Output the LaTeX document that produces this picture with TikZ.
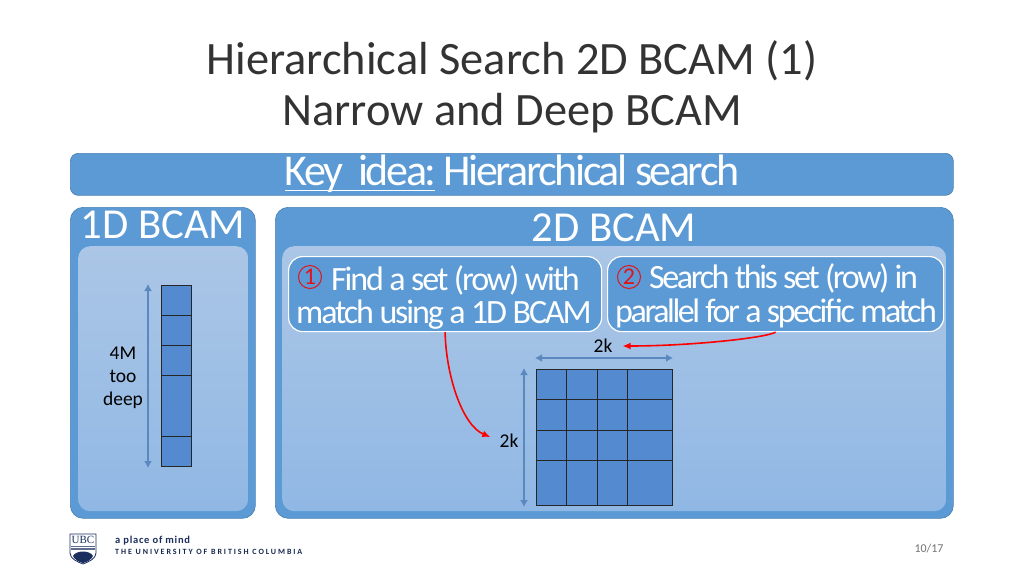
\documentclass[tikz,border=0pt]{standalone}
\usepackage{fontspec}
\setmainfont{Carlito}
\newfontfamily\ubcserif{Liberation Serif}
\usetikzlibrary{arrows.meta,positioning}
\definecolor{panelblue}{HTML}{5B9AD5}
\definecolor{innertop}{HTML}{ABC6E6}
\definecolor{innerbot}{HTML}{90B8E4}
\definecolor{cellblue}{HTML}{548BD0}
\definecolor{dimblue}{HTML}{5A88BF}
\definecolor{ubcnavy}{HTML}{1B2F5E}
\definecolor{numred}{HTML}{E0151C}
\tikzset{
  x=1pt,y=-1pt,
  outerpanel/.style={draw=panelblue!85!black,line width=.7pt,fill=panelblue,rounded corners=13pt,minimum width=#1,anchor=north west,inner sep=0pt},
  innerpanel/.style={top color=innertop,bottom color=innerbot,draw=none,rounded corners=12pt},
  stepbox/.style={draw=white,line width=1.2pt,fill=panelblue,rounded corners=14pt,anchor=north west,inner sep=0pt},
  steptext/.style={text=white,inner sep=0pt,anchor=base west},
  cell/.style={draw=black!85,line width=1.3pt,fill=cellblue,anchor=north west,inner sep=0pt},
  dimarrow/.style={draw=dimblue,line width=2.6pt,{Latex[length=7pt,width=8pt]}-{Latex[length=7pt,width=8pt]}},
  redarrow/.style={draw=red,line width=1.6pt,shorten >=10pt,-{Latex[length=8pt,width=7pt]}},
  heading/.style={text=white,font=\fontsize{42.7}{43}\selectfont,inner sep=0pt,anchor=base},
  blacklabel/.style={text=black,font=\fontsize{19.5}{23}\selectfont,inner sep=0pt,align=center},
  titletext/.style={text=black!80,font=\fontsize{46.4}{50}\selectfont,inner sep=0pt,anchor=base},
  numcircle/.style={circle,draw=numred,line width=1pt,text=numred,minimum size=23pt,inner sep=0pt,font=\fontsize{24}{24}\selectfont,anchor=center},
}
\newcommand{\gridcell}[6]{\node[cell,minimum width=#5pt-#3pt,minimum height=#6pt-#4pt] (#1#2) at (#3,#4) {};}
\newcommand{\stepa}{\fontsize{34}{34}\selectfont\addfontfeature{LetterSpace=-6.3}}
\newcommand{\stepb}{\fontsize{34}{34}\selectfont\addfontfeature{LetterSpace=-7.1}}
\begin{document}
\begin{tikzpicture}
\useasboundingbox (0,0) rectangle (1024,576);
\fill[white] (0,0) rectangle (1024,576);
% title
\node[titletext] (title1) at (512,74) {Hierarchical Search 2D BCAM (1)};
\node[titletext] (title2) at (512,125) {Narrow and Deep BCAM};
% key idea bar
\node[outerpanel=883pt,minimum height=42pt,rounded corners=8pt] (bar) at (70,153) {};
\node[text=white,font=\fontsize{44}{44}\selectfont\addfontfeature{LetterSpace=-5.6},inner sep=0pt,anchor=base] (keyidea) at (512,185) {Key\ \ idea:\ Hierarchical search};
\coordinate (ulstart) at (285,190.5);
\coordinate (ulend) at (435,190.5);
\draw[white,line width=1.6pt] (ulstart) -- (ulend);
% panels
\node[outerpanel=185pt,minimum height=311pt] (p1) at (70,207) {};
\node[outerpanel=678pt,minimum height=311pt] (p2) at (275,207) {};
\node[innerpanel,minimum width=170pt,minimum height=265pt,anchor=north west,inner sep=0pt] (i1) at (78,246) {};
\node[innerpanel,minimum width=664pt,minimum height=265pt,anchor=north west,inner sep=0pt] (i2) at (282,246) {};
\node[heading] (h1) at (163,238) {1D BCAM};
\node[heading] (h2) at (614,241) {2D BCAM};
% step boxes
\node[stepbox,minimum width=313pt,minimum height=75pt] (step1) at (288,256) {};
\node[stepbox,minimum width=336pt,minimum height=75pt] (step2) at (607,256) {};
\node[numcircle] (n1) at (310,277) {1};
\node[numcircle] (n2) at (629,277) {2};
\node[steptext,font=\stepa] (s1a) at (331,290) {Find a set (row) with};
\node[steptext,font=\stepa] (s1b) at (296,323) {match using a 1D BCAM};
\node[steptext,font=\stepb] (s2a) at (649,288) {Search this set (row) in};
\node[steptext,font=\stepb] (s2b) at (615,322) {parallel for a specific match};
% 1D column
\foreach \n/\a/\b in {a/285/315,b/315/345,c/345/375,d/375/436,e/436/466}{
  \node[cell,minimum width=30pt,minimum height={\b pt-\a pt}] (col\n) at (161,\a) {};
}
\coordinate (d1top) at (148,284);
\coordinate (d1bot) at (148,468);
\draw[dimarrow] (d1top) -- (d1bot);
\node[blacklabel] (deep) at (123,378) {4M\\too\\deep};
% 2D grid
\foreach \r/\ya/\yb in {1/369/399,2/399/430,3/430/460,4/460/505}{
  \foreach \c/\xa/\xb in {a/536/566,b/566/597,c/597/627,d/627/672}{
    \gridcell{g\c}{\r}{\xa}{\ya}{\xb}{\yb}
  }
}
\coordinate (dhl) at (535,358);
\coordinate (dhr) at (673,358);
\draw[dimarrow] (dhl) -- (dhr);
\coordinate (dvt) at (524,368);
\coordinate (dvb) at (524,507);
\draw[dimarrow] (dvt) -- (dvb);
\node[blacklabel] (k1) at (603,346) {2k};
\node[blacklabel] (k2) at (509,441) {2k};
% red connectors
\draw[redarrow] (step1.south) .. controls (446,375) and (462,425) .. (k2.west);
\draw[redarrow] (step2.south) .. controls (765,338) and (690,346) .. (k1.east);
% footer
\node[inner sep=0pt,text=black!55,font=\fontsize{12}{12}\selectfont] (pg) at (929,549) {10/17};
\fill[white,draw=ubcnavy,line width=.8pt] (70,534) -- (96,534) -- (96,553) .. controls (96,559) and (88,562) .. (83,564) .. controls (78,562) and (70,559) .. (70,553) -- cycle;
\fill[ubcnavy] (73,556) .. controls (76,550) and (90,550) .. (93,556) .. controls (91,560) and (87,562) .. (83,563) .. controls (79,562) and (75,560) .. (73,556) -- cycle;
\fill[ubcnavy!70] (71,545.5) rectangle (95,549.5);
\draw[white,line width=.5pt] (71,547.5) -- (95,547.5);
\node[text=ubcnavy,inner sep=0pt,font=\fontsize{11}{11}\selectfont\ubcserif] (ubc) at (83,540) {UBC};
\node[text=ubcnavy,inner sep=0pt,anchor=base west,font=\fontsize{10.5}{10}\selectfont\bfseries\addfontfeature{LetterSpace=7}] (place) at (115,543) {a place of mind};
\node[text=ubcnavy!85!black,inner sep=0pt,anchor=base west,font=\fontsize{8}{8}\selectfont\bfseries\addfontfeature{LetterSpace=24}] (univ) at (115,554) {THE UNIVERSITY OF BRITISH COLUMBIA};
\end{tikzpicture}
\end{document}
